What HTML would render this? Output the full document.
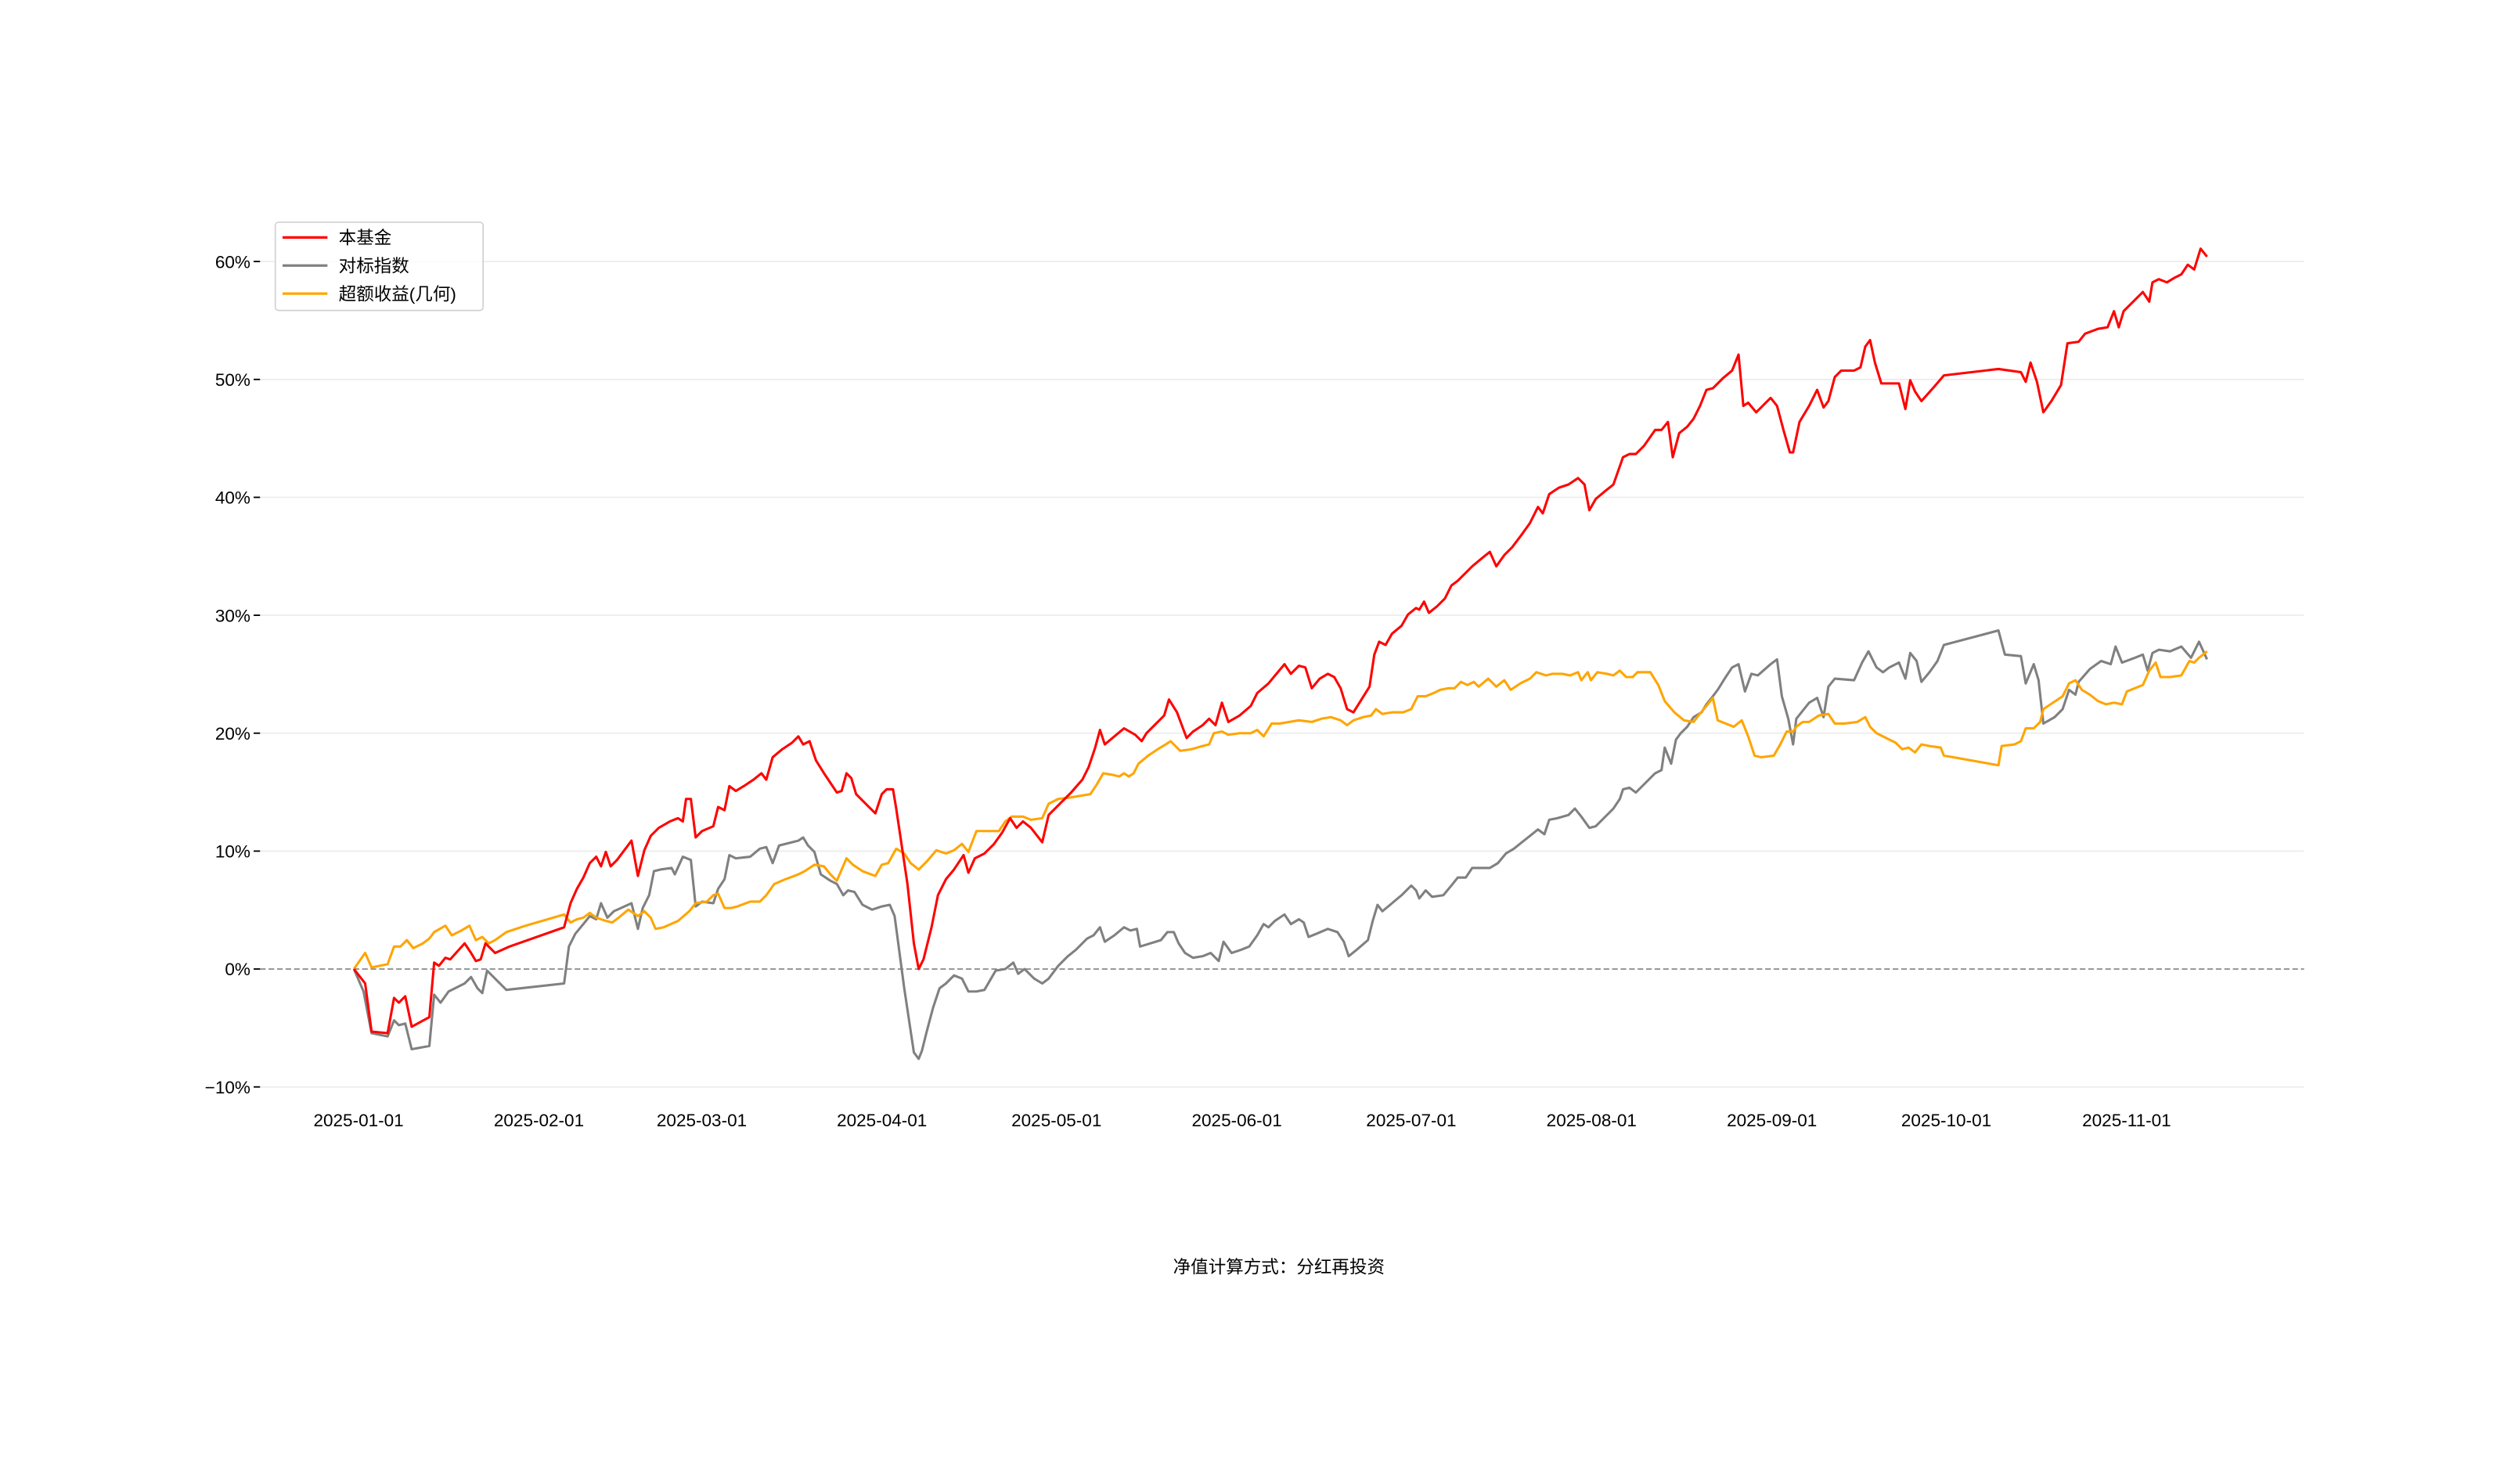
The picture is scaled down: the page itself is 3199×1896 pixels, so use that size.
<!DOCTYPE html>
<html><head><meta charset="utf-8"><style>
html,body{margin:0;padding:0;background:#fff;}
svg{display:block;}
text{font-family:"Liberation Sans","Noto Sans CJK SC",sans-serif;fill:#000;}
</style></head><body>
<svg width="3199" height="1896" viewBox="0 0 1560.5 925" xmlns="http://www.w3.org/2000/svg">
<g stroke="#ebebeb" stroke-width="0.8">
<line x1="162" x2="1436" y1="163" y2="163"/>
<line x1="162" x2="1436" y1="236.5" y2="236.5"/>
<line x1="162" x2="1436" y1="310" y2="310"/>
<line x1="162" x2="1436" y1="383.5" y2="383.5"/>
<line x1="162" x2="1436" y1="457" y2="457"/>
<line x1="162" x2="1436" y1="530.5" y2="530.5"/>
<line x1="162" x2="1436" y1="677.5" y2="677.5"/>
</g>
<line x1="162" x2="1436" y1="604" y2="604" stroke="#808080" stroke-width="0.8" stroke-dasharray="3.5,1.8"/>
<g stroke="#000" stroke-width="0.9">
<line x1="158" x2="162" y1="163" y2="163"/><line x1="158" x2="162" y1="236.5" y2="236.5"/>
<line x1="158" x2="162" y1="310" y2="310"/><line x1="158" x2="162" y1="383.5" y2="383.5"/>
<line x1="158" x2="162" y1="457" y2="457"/><line x1="158" x2="162" y1="530.5" y2="530.5"/>
<line x1="158" x2="162" y1="604" y2="604"/><line x1="158" x2="162" y1="677.5" y2="677.5"/>
</g>
<g font-size="11" text-anchor="end">
<text x="156" y="167">60%</text><text x="156" y="240.5">50%</text><text x="156" y="314">40%</text>
<text x="156" y="387.5">30%</text><text x="156" y="461">20%</text><text x="156" y="534.5">10%</text>
<text x="156" y="608">0%</text><text x="156" y="681.5">−10%</text>
</g>
<g font-size="11" text-anchor="middle">
<text x="223.4" y="702">2025-01-01</text><text x="335.8" y="702">2025-02-01</text><text x="437.3" y="702">2025-03-01</text>
<text x="549.6" y="702">2025-04-01</text><text x="658.4" y="702">2025-05-01</text><text x="770.8" y="702">2025-06-01</text>
<text x="879.5" y="702">2025-07-01</text><text x="991.9" y="702">2025-08-01</text><text x="1104.3" y="702">2025-09-01</text>
<text x="1213" y="702">2025-10-01</text><text x="1325.4" y="702">2025-11-01</text>
</g>
<g transform="translate(-2.5,-2)" fill="none" stroke-width="1.5" stroke-linejoin="round">
<polyline stroke="#808080" points="223,606 229,620 234,646 244,648 248,638 251,641 255,640 259,656 270,654 273,622 277,627 282,620 292,615 296,611 300,618 303,621 306,607 318,619 354,615 357,592 361,584 366,578 370,573 374,575 377,565 381,574 385,570 396,565 400,581 403,568 407,560 410,545 414,544 421,543 423,547 428,536 433,538 436,567 440,564 447,565 450,556 454,550 457,535 461,537 470,536 476,531 480,530 484,540 488,529 496,527 500,526 503,524 506,529 510,533 514,547 520,551 524,553 528,560 531,557 535,558 540,566 546,569 552,567 557,566 560,573 566,618 572,658 575,662 577,657 580,645 584,630 588,618 592,615 597,610 602,612 606,620 611,620 616,619 623,607 629,606 634,602 637,609 641,606 647,612 652,615 656,612 662,604 668,598 673,594 680,587 684,585 688,580 691,589 697,585 703,580 707,582 711,581 713,592 726,588 730,583 734,583 737,590 741,596 746,599 752,598 757,596 762,601 765,589 770,596 776,594 781,592 786,585 790,578 793,580 797,576 803,572 807,578 812,575 815,577 818,586 823,584 830,581 836,583 840,589 843,598 848,594 855,588 858,576 861,566 864,570 870,565 876,560 882,554 885,557 887,562 891,557 895,561 902,560 907,554 911,549 916,549 920,543 925,543 931,543 936,540 941,534 946,531 951,527 956,523 961,519 965,522 968,513 973,512 980,510 984,506 988,511 993,518 997,517 1003,511 1008,506 1012,500 1014,494 1018,493 1022,496 1027,491 1034,484 1038,482 1040,468 1044,478 1047,463 1050,459 1054,455 1058,449 1063,446 1066,441 1070,436 1073,432 1078,424 1082,418 1086,416 1090,433 1094,422 1098,423 1106,416 1110,413 1113,436 1117,450 1120,466 1122,450 1126,445 1130,440 1135,437 1139,449 1142,430 1146,425 1158,426 1163,415 1167,408 1172,418 1176,421 1180,418 1186,415 1190,425 1193,409 1197,414 1200,427 1205,421 1210,414 1214,404 1248,395 1252,410 1262,411 1265,428 1270,416 1273,426 1276,453 1283,449 1288,444 1292,432 1296,435 1298,427 1305,419 1312,414 1318,416 1321,405 1325,415 1333,412 1338,410 1341,420 1344,409 1348,407 1355,408 1362,405 1368,412 1373,402 1378,413"/>
<polyline stroke="#ffa500" points="223,606 230,596 234,605 244,603 248,592 252,592 256,588 260,593 266,590 270,587 273,583 280,579 284,585 290,582 295,579 299,588 303,586 307,590 311,588 318,583 330,579 354,572 358,577 362,575 366,574 370,571 374,574 380,576 384,577 388,574 394,569 400,573 404,570 408,574 411,581 416,580 425,576 432,570 436,565 443,564 447,560 450,559 454,568 458,568 462,567 470,564 476,564 480,560 485,553 492,550 500,547 504,545 510,541 516,542 520,547 524,551 530,537 534,541 540,545 548,548 552,541 556,540 561,531 566,534 570,540 575,544 580,539 586,532 592,534 597,532 602,528 606,533 611,520 620,520 625,520 629,514 633,511 640,511 645,513 652,512 656,503 662,500 670,499 676,498 682,497 686,491 690,484 696,485 700,486 703,484 706,486 709,484 712,478 718,473 724,469 729,466 732,464 738,470 745,469 752,467 756,466 759,459 764,458 768,460 775,459 782,459 786,457 790,461 795,453 800,453 806,452 812,451 820,452 826,450 832,449 838,451 842,454 846,451 852,449 857,448 860,444 864,447 870,446 877,446 882,444 886,436 891,436 896,434 900,432 905,431 909,431 913,427 917,429 921,427 924,430 930,425 935,430 940,426 944,432 950,428 956,425 960,421 966,423 970,422 976,422 981,423 986,421 988,426 992,421 994,426 998,421 1004,422 1008,423 1012,420 1016,424 1020,424 1023,421 1031,421 1036,429 1040,439 1046,446 1052,451 1058,452 1061,448 1066,442 1070,437 1073,451 1078,453 1083,455 1088,451 1092,461 1096,473 1100,474 1108,473 1112,466 1116,458 1120,458 1122,455 1126,452 1130,452 1136,448 1142,447 1146,453 1152,453 1160,452 1165,449 1168,455 1172,459 1178,462 1184,465 1188,469 1192,468 1196,471 1200,466 1205,467 1212,468 1214,473 1248,479 1250,467 1258,466 1262,464 1265,456 1270,456 1274,452 1276,444 1282,440 1288,436 1292,428 1296,426 1300,432 1305,435 1310,439 1315,441 1320,440 1325,441 1328,433 1333,431 1338,429 1342,420 1346,415 1349,424 1355,424 1362,423 1367,414 1370,415 1373,412 1378,408"/>
<polyline stroke="#ff0000" points="223,606 230,615 234,645 244,646 248,624 251,627 255,623 259,642 270,636 273,602 276,604 280,599 283,600 292,590 296,596 299,601 302,600 305,590 311,596 320,592 354,580 358,565 362,556 366,549 370,540 374,536 377,542 380,533 383,542 387,538 396,526 400,548 404,532 408,523 413,518 420,514 425,512 428,514 430,500 433,500 436,524 440,520 447,517 450,505 454,507 457,492 461,495 466,492 472,488 477,484 480,488 484,474 490,469 496,465 500,461 503,466 507,464 511,476 516,484 520,490 524,496 527,495 530,484 533,487 536,497 542,503 548,509 552,497 555,494 559,494 561,506 568,553 572,590 575,606 578,600 583,580 587,560 592,550 597,544 603,535 606,546 610,537 616,534 622,528 627,521 632,512 636,518 640,514 645,518 652,527 656,510 662,504 670,496 677,488 681,480 685,468 688,457 691,466 697,461 703,456 710,460 714,464 717,459 722,454 728,448 731,438 736,446 742,462 746,458 752,454 756,450 760,454 764,440 768,452 775,448 782,442 786,434 793,428 798,422 803,416 807,422 812,417 816,418 820,431 825,425 830,422 834,424 838,431 842,444 846,446 851,438 856,430 859,410 862,402 866,404 870,397 876,392 880,385 885,381 887,382 890,377 893,384 898,380 903,375 907,367 911,364 915,360 920,355 926,350 931,346 935,355 940,348 945,343 951,335 956,328 961,318 964,322 968,310 974,306 980,304 986,300 990,304 993,320 997,313 1003,308 1008,304 1014,287 1018,285 1022,285 1027,280 1034,270 1038,270 1042,265 1045,287 1049,272 1054,268 1058,263 1062,255 1066,245 1070,244 1076,238 1082,233 1086,223 1089,255 1092,253 1097,259 1102,254 1106,250 1110,255 1114,270 1118,284 1120,284 1124,265 1130,255 1135,245 1139,256 1142,252 1146,237 1150,233 1158,233 1162,231 1165,218 1168,214 1171,228 1175,241 1186,241 1190,257 1193,239 1196,246 1200,252 1208,243 1214,236 1248,232 1262,234 1265,240 1268,228 1272,240 1276,259 1281,252 1287,242 1291,216 1298,215 1302,210 1310,207 1316,206 1320,196 1323,206 1326,196 1333,189 1338,184 1342,190 1344,178 1348,176 1353,178 1358,175 1362,173 1366,167 1370,170 1374,157 1378,162"/>
</g>
<rect x="171.5" y="138.5" width="129.5" height="55" rx="2" fill="#fff" fill-opacity="0.8" stroke="#d0d0d0" stroke-width="0.8"/>
<line x1="176" x2="204" y1="148" y2="148" stroke="#ff0000" stroke-width="1.6"/>
<line x1="176" x2="204" y1="165.5" y2="165.5" stroke="#808080" stroke-width="1.6"/>
<line x1="176" x2="204" y1="183" y2="183" stroke="#ffa500" stroke-width="1.6"/>
<g font-size="11">
<text x="211" y="152">本基金</text>
<text x="211" y="169.5">对标指数</text>
<text x="211" y="187">超额收益(几何)</text>
</g>
<text x="797" y="793.5" font-size="11" text-anchor="middle">净值计算方式：分红再投资</text>
</svg>
</body></html>
